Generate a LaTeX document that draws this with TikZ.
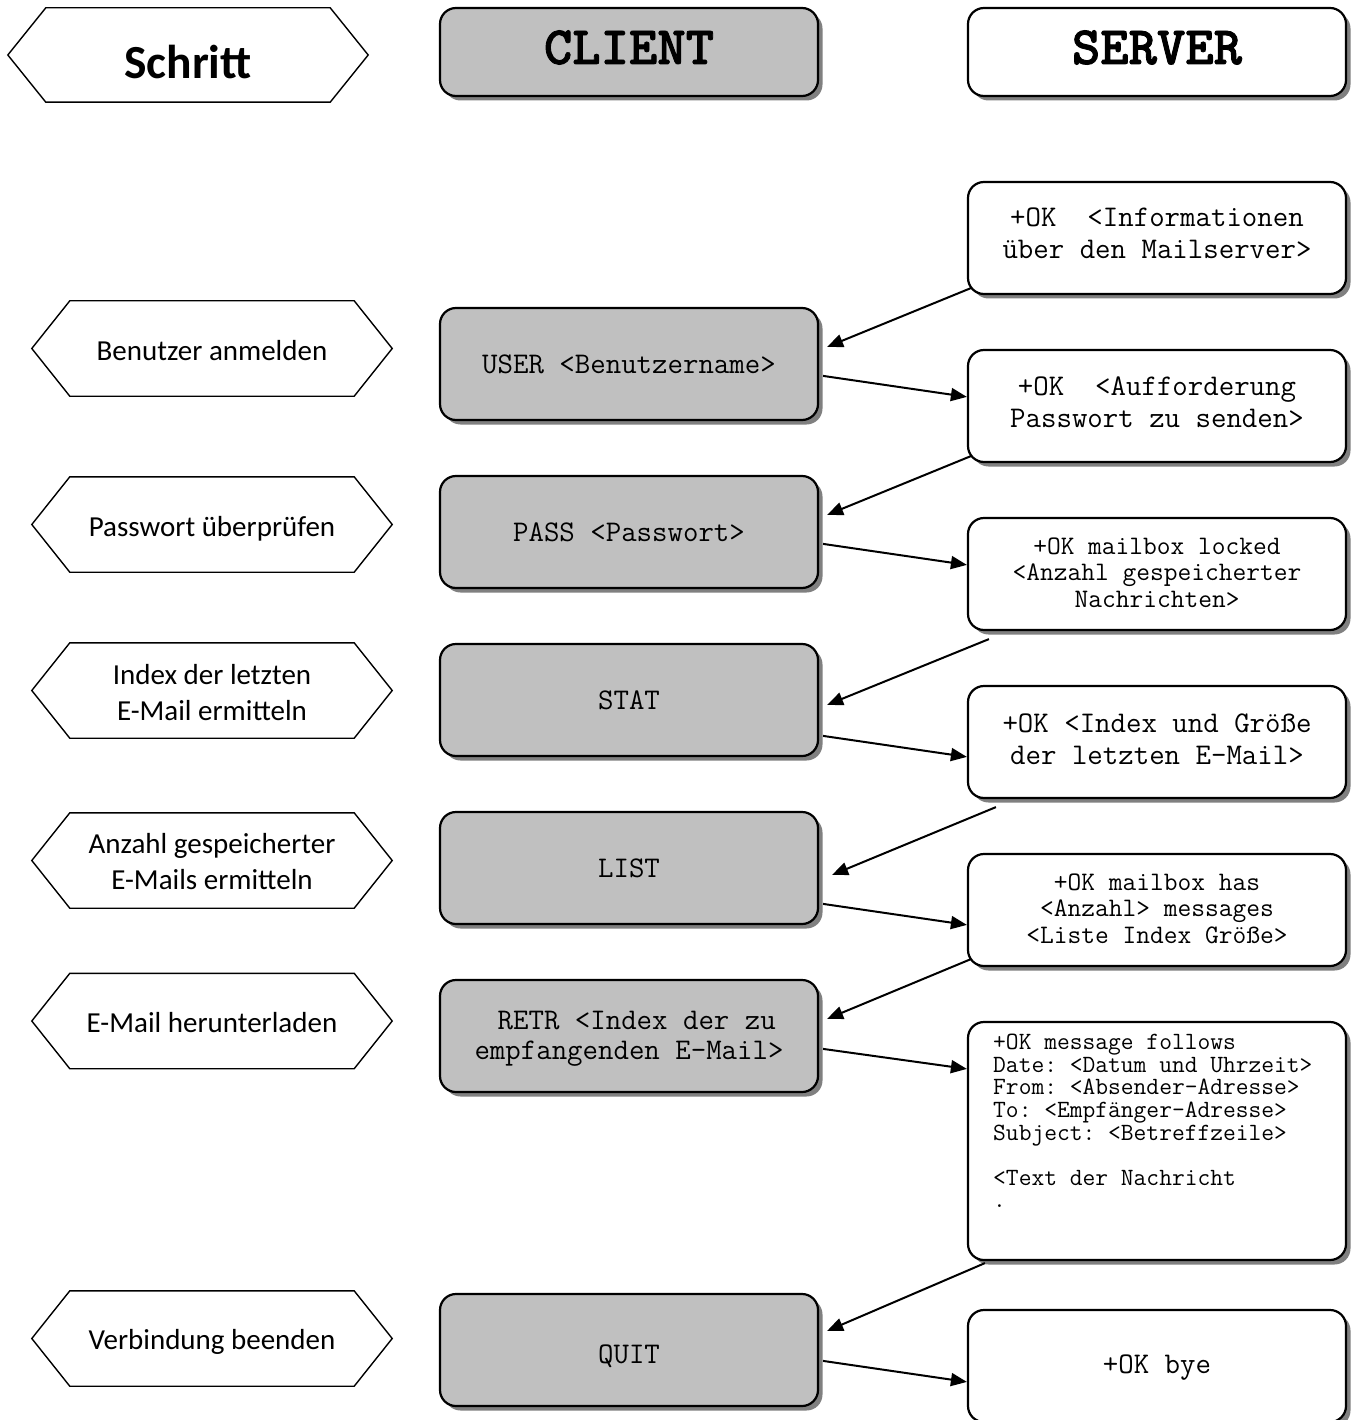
\documentclass[tikz,border=0pt]{standalone}
\usepackage{fontspec}
\setmainfont{Carlito}
\newfontfamily\hdmono{lmmonolt10-bold.otf}[FakeBold=1.6]
\usetikzlibrary{shadows,arrows.meta,calc}
\definecolor{cgray}{HTML}{C0C0C0}
\definecolor{shgray}{HTML}{808080}
\frenchspacing
\newcommand\monoA{\ttfamily\frenchspacing\fontsize{30}{32}\selectfont}
\newcommand\monoB{\ttfamily\frenchspacing\fontsize{26.7}{26.5}\selectfont}
\newcommand\monoC{\ttfamily\frenchspacing\fontsize{24.8}{22.6}\selectfont}
\newcommand\monoHead{\hdmono\fontsize{54}{56}\selectfont}
\newcommand\stepfont{\rmfamily\fontsize{29}{36}\selectfont}
\newcommand\stephead{\rmfamily\bfseries\fontsize{47.5}{50}\selectfont}
% text block whose last baseline sits #1 above the node centre (negative: below)
\newcommand\tb[2]{\raisebox{#1}[0pt][0pt]{\begin{tabular}[b]{@{}c@{}}#2\end{tabular}}}
\newcommand\hexframe[1]{\draw[hexline] (#1.west) -- ([xshift=38pt]#1.north west) -- ([xshift=-38pt]#1.north east) -- (#1.east) -- ([xshift=-38pt]#1.south east) -- ([xshift=38pt]#1.south west) -- cycle;}
\begin{document}
\begin{tikzpicture}[x=1pt,y=-1pt,
  box/.style={draw=black, line width=2.2pt, rounded corners=16pt, minimum width=378pt, minimum height=112pt, inner sep=0pt, align=center, text=black, drop shadow={shadow xshift=4.5pt, shadow yshift=-4.5pt, fill=shgray, opacity=1}},
  cbox/.style={box, fill=cgray},
  sbox/.style={box, fill=white},
  hexnode/.style={minimum width=360pt, minimum height=95pt, inner sep=0pt, align=center},
  hexline/.style={draw=black, line width=1.4pt, line join=miter},
  arr/.style={line width=2pt, -{Triangle[length=16pt,width=13pt]}},
]
\useasboundingbox[fill=white] (0,0) rectangle (1357,1420);

% step column
\node[hexnode, minimum height=94pt, font=\stephead] (hstep) at (188,55) {\tb{-23.5pt}{Schritt}};
\node[hexnode, font=\stepfont] (st1) at (212,348.5) {\tb{-12.5pt}{Benutzer anmelden}};
\node[hexnode, font=\stepfont] (st2) at (212,524.5) {\tb{-12pt}{Passwort überprüfen}};
\node[hexnode, font=\stepfont] (st3) at (212,690.5) {\tb{-30pt}{Index der letzten\\E-Mail ermitteln}};
\node[hexnode, font=\stepfont] (st4) at (212,860.5) {\tb{-29pt}{Anzahl gespeicherter\\E-Mails ermitteln}};
\node[hexnode, font=\stepfont] (st5) at (212,1021) {\tb{-11.5pt}{E-Mail herunterladen}};
\node[hexnode, font=\stepfont] (st6) at (212,1338.5) {\tb{-11pt}{Verbindung beenden}};
\foreach \n in {hstep,st1,st2,st3,st4,st5,st6}{\hexframe{\n}}

% client column
\node[cbox, minimum height=88pt, font=\monoHead] (hc) at (629,52) {\tb{-12pt}{CLIENT}};
\node[cbox, font=\monoA] (c1) at (629,364) {\tb{-9pt}{USER <Benutzername>}};
\node[cbox, font=\monoA] (c2) at (629,532) {\tb{-9pt}{PASS <Passwort>}};
\node[cbox, font=\monoA] (c3) at (629,700) {\tb{-9pt}{STAT}};
\node[cbox, font=\monoA] (c4) at (629,868) {\tb{-9pt}{LIST}};
\node[cbox, font=\monoA] (c5) at (629,1036) {\tb{-23pt}{\phantom{x}RETR <Index der zu\\[-2pt]empfangenden E-Mail>}};
\node[cbox, font=\monoA] (c6) at (629,1350) {\tb{-13pt}{QUIT}};

% server column
\node[sbox, minimum height=88pt, font=\monoHead] (hs) at (1157,52) {\tb{-12pt}{SERVER}};
\node[sbox, font=\monoA] (s1) at (1157,238) {\tb{-21pt}{+OK\ \ <Informationen\\über den Mailserver>}};
\node[sbox, font=\monoA] (s2) at (1157,406) {\tb{-21pt}{+OK\ \ <Aufforderung\\Passwort zu senden>}};
\node[sbox, font=\monoB] (s3) at (1157,574) {\tb{-33pt}{+OK mailbox locked\\<Anzahl gespeicherter\\Nachrichten>}};
\node[sbox, font=\monoA] (s4) at (1157,742) {\tb{-22pt}{+OK <Index und Größe\\der letzten E-Mail>}};
\node[sbox, font=\monoB] (s5) at (1157,910) {\tb{-33pt}{+OK mailbox has\\<Anzahl> messages\\<Liste Index Größe>}};
\node[sbox, minimum height=238pt] (s6) at (1157,1141) {};
\node[anchor=north west, inner sep=0pt, align=left, font=\monoC] (s6t) at (993,1034)
  {+OK message follows\\Date: <Datum und Uhrzeit>\\From: <Absender-Adresse>\\To: <Empfänger-Adresse>\\Subject: <Betreffzeile>\\[22.6pt]<Text der Nachricht\\.};
\node[sbox, font=\monoA] (s7) at (1157,1366) {\tb{-7pt}{+OK bye}};

% connectors
\draw[arr] ([shift={(4,-7)}]s1.south west) -- ([shift={(8,40)}]c1.north east);
\draw[arr] ([shift={(4,69)}]c1.north east) -- ([shift={(0,48)}]s2.north west);
\draw[arr] ([shift={(4,-7)}]s2.south west) -- ([shift={(8,40)}]c2.north east);
\draw[arr] ([shift={(4,69)}]c2.north east) -- ([shift={(0,48)}]s3.north west);
\draw[arr] ([shift={(22,8)}]s3.south west) -- ([shift={(8,62)}]c3.north east);
\draw[arr] ([shift={(4,93)}]c3.north east) -- ([shift={(0,72)}]s4.north west);
\draw[arr] ([shift={(29,8)}]s4.south west) -- ([shift={(13,64)}]c4.north east);
\draw[arr] ([shift={(4,93)}]c4.north east) -- ([shift={(0,72)}]s5.north west);
\draw[arr] ([shift={(4,-8)}]s5.south west) -- ([shift={(8,40)}]c5.north east);
\draw[arr] ([shift={(4,70)}]c5.north east) -- ([shift={(0,48)}]s6.north west);
\draw[arr] ([shift={(18,2)}]s6.south west) -- ([shift={(8,38)}]c6.north east);
\draw[arr] ([shift={(4,68)}]c6.north east) -- ([shift={(0,73)}]s7.north west);
\end{tikzpicture}
\end{document}
